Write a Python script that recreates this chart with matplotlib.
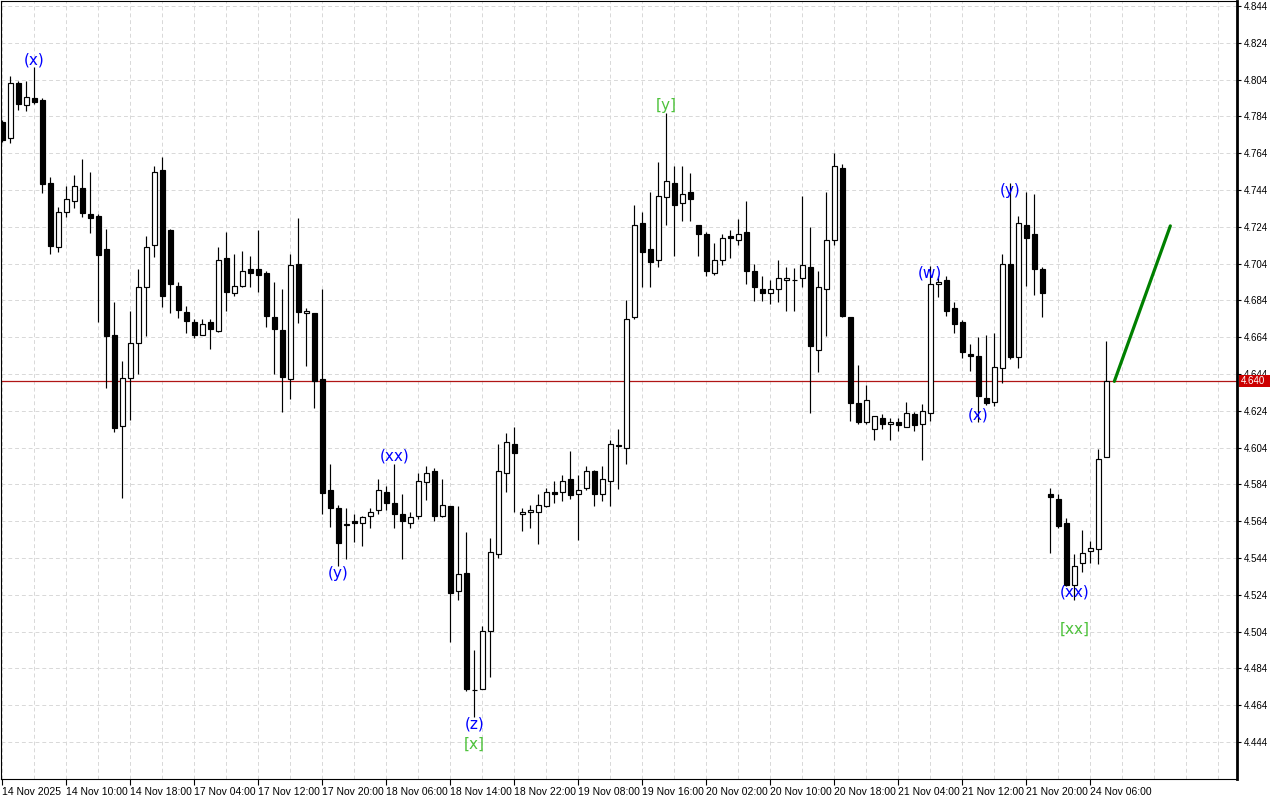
import matplotlib
matplotlib.use('Agg')
import matplotlib.pyplot as plt
import numpy as np
from matplotlib.patches import Rectangle

# ---------------- data (hourly bars) ----------------
opens = [4.7812, 4.7721, 4.8020, 4.7901, 4.7939, 4.7929, 4.7477, 4.7129, 4.7319, 4.7379,
         4.7451, 4.7312, 4.7299, 4.7120, 4.6652, 4.6159, 4.6417, 4.6607, 4.6915, 4.7140,
         4.7547, 4.7223, 4.6917, 4.6779, 4.6725, 4.6651, 4.6721, 4.6674, 4.7069, 4.6879,
         4.6917, 4.7011, 4.7011, 4.6988, 4.6750, 4.6678, 4.6412, 4.7037, 4.6770, 4.6770,
         4.6412, 4.5808, 4.5711, 4.5618, 4.5640, 4.5629, 4.5667, 4.5700, 4.5799, 4.5738,
         4.5678, 4.5629, 4.5667, 4.5853, 4.5913, 4.5667, 4.5721, 4.5259, 4.5357, 4.4721,
         4.4730, 4.5045, 4.5460, 4.5901, 4.6058, 4.5678, 4.5689, 4.5689, 4.5723, 4.5799,
         4.5797, 4.5868, 4.5787, 4.5819, 4.5912, 4.5787, 4.5857, 4.6048, 4.6037, 4.6749,
         4.7259, 4.7118, 4.7058, 4.7401, 4.7477, 4.7368, 4.7428, 4.7249, 4.7200, 4.6988,
         4.7058, 4.7189, 4.7167, 4.7211, 4.6999, 4.6901, 4.6879, 4.6901, 4.6950, 4.6950,
         4.6960, 4.7020, 4.6569, 4.6901, 4.7167, 4.7558, 4.6749, 4.6281, 4.6178, 4.6140,
         4.6200, 4.6167, 4.6178, 4.6151, 4.6222, 4.6167, 4.6227, 4.6928, 4.6950, 4.6797,
         4.6721, 4.6547, 4.6536, 4.6308, 4.6287, 4.6471, 4.7037, 4.6531, 4.7249, 4.7200,
         4.7009, 4.5787, 4.5759, 4.5629, 4.5294, 4.5412, 4.5478, 4.5488, 4.5988]
highs = [4.7820, 4.8060, 4.8033, 4.8033, 4.8107, 4.7939, 4.7511, 4.7346, 4.7462, 4.7522,
         4.7609, 4.7538, 4.7312, 4.7228, 4.6832, 4.6511, 4.6783, 4.7011, 4.7190, 4.7571,
         4.7620, 4.7228, 4.6939, 4.6810, 4.6738, 4.6738, 4.6738, 4.7131, 4.7212, 4.7093,
         4.7109, 4.7082, 4.7223, 4.7000, 4.6939, 4.6902, 4.7093, 4.7287, 4.6801, 4.6770,
         4.6904, 4.5951, 4.5728, 4.5711, 4.5678, 4.5667, 4.5711, 4.5870, 4.5832, 4.5951,
         4.5787, 4.5689, 4.5902, 4.5940, 4.5929, 4.5870, 4.5721, 4.5721, 4.5580, 4.4942,
         4.5071, 4.5551, 4.6062, 4.6121, 4.6154, 4.5711, 4.5727, 4.5787, 4.5819, 4.5857,
         4.5892, 4.6020, 4.5892, 4.5940, 4.5917, 4.5940, 4.6082, 4.6141, 4.6841, 4.7359,
         4.7319, 4.7431, 4.7594, 4.7860, 4.7569, 4.7569, 4.7533, 4.7249, 4.7211, 4.7151,
         4.7200, 4.7221, 4.7284, 4.7379, 4.7037, 4.6971, 4.6950, 4.7058, 4.7020, 4.7015,
         4.7406, 4.7239, 4.6999, 4.7428, 4.7640, 4.7580, 4.6749, 4.6488, 4.6379, 4.6211,
         4.6222, 4.6200, 4.6200, 4.6287, 4.6233, 4.6276, 4.7029, 4.6971, 4.6971, 4.6830,
         4.6732, 4.6602, 4.6640, 4.6651, 4.6662, 4.7091, 4.7477, 4.7299, 4.7428, 4.7417,
         4.7020, 4.5819, 4.5787, 4.5660, 4.5462, 4.5593, 4.5533, 4.6031, 4.6620]
lows = [4.7700, 4.7697, 4.7875, 4.7870, 4.7908, 4.7426, 4.7094, 4.7103, 4.7295, 4.7344,
        4.7295, 4.7208, 4.6725, 4.6366, 4.6127, 4.5768, 4.6189, 4.6439, 4.6649, 4.7078,
        4.6806, 4.6770, 4.6746, 4.6662, 4.6638, 4.6651, 4.6578, 4.6667, 4.6784, 4.6866,
        4.6915, 4.6915, 4.6888, 4.6697, 4.6439, 4.6236, 4.6306, 4.6719, 4.6485, 4.6257,
        4.5678, 4.5607, 4.5399, 4.5437, 4.5527, 4.5507, 4.5602, 4.5678, 4.5700, 4.5602,
        4.5437, 4.5602, 4.5651, 4.5755, 4.5640, 4.5662, 4.4986, 4.5210, 4.4719, 4.4578,
        4.4730, 4.4795, 4.5439, 4.5797, 4.5689, 4.5589, 4.5602, 4.5518, 4.5716, 4.5738,
        4.5749, 4.5759, 4.5540, 4.5808, 4.5725, 4.5749, 4.5725, 4.5817, 4.5950, 4.6740,
        4.6912, 4.6912, 4.7020, 4.7249, 4.7080, 4.7270, 4.7270, 4.7080, 4.6971, 4.6977,
        4.7031, 4.7069, 4.7140, 4.6928, 4.6839, 4.6839, 4.6819, 4.6830, 4.6784, 4.6784,
        4.6912, 4.6227, 4.6450, 4.6649, 4.7140, 4.6749, 4.6187, 4.6167, 4.6167, 4.6080,
        4.6140, 4.6080, 4.6129, 4.6151, 4.6129, 4.5971, 4.6187, 4.6857, 4.6757, 4.6665,
        4.6529, 4.6458, 4.6178, 4.6270, 4.6268, 4.6390, 4.6520, 4.6471, 4.6917, 4.6868,
        4.6749, 4.5469, 4.5602, 4.5290, 4.5212, 4.5366, 4.5415, 4.5408, 4.5988]
closes = [4.7712, 4.8020, 4.7906, 4.7947, 4.7917, 4.7471, 4.7138, 4.7319, 4.7390, 4.7462,
          4.7317, 4.7287, 4.7089, 4.6649, 4.6149, 4.6417, 4.6607, 4.6912, 4.7129, 4.7537,
          4.6866, 4.6928, 4.6787, 4.6729, 4.6651, 4.6711, 4.6687, 4.7058, 4.6888, 4.6917,
          4.7000, 4.6988, 4.6977, 4.6757, 4.6687, 4.6426, 4.7031, 4.6779, 4.6781, 4.6402,
          4.5795, 4.5711, 4.5520, 4.5627, 4.5629, 4.5662, 4.5689, 4.5808, 4.5738, 4.5678,
          4.5640, 4.5662, 4.5857, 4.5901, 4.5667, 4.5727, 4.5249, 4.5352, 4.4730, 4.4723,
          4.5045, 4.5471, 4.5912, 4.6069, 4.6009, 4.5689, 4.5701, 4.5727, 4.5797, 4.5787,
          4.5857, 4.5781, 4.5808, 4.5912, 4.5787, 4.5868, 4.6058, 4.6052, 4.6738, 4.7249,
          4.7105, 4.7047, 4.7406, 4.7488, 4.7357, 4.7417, 4.7390, 4.7200, 4.6999, 4.7058,
          4.7178, 4.7178, 4.7200, 4.6999, 4.6912, 4.6879, 4.6901, 4.6960, 4.6960, 4.6950,
          4.7031, 4.6591, 4.6912, 4.7167, 4.7569, 4.6754, 4.6284, 4.6178, 4.6297, 4.6211,
          4.6167, 4.6178, 4.6162, 4.6227, 4.6162, 4.6238, 4.6928, 4.6939, 4.6784, 4.6711,
          4.6558, 4.6536, 4.6319, 4.6281, 4.6477, 4.7037, 4.6534, 4.7259, 4.7178, 4.7009,
          4.6879, 4.5770, 4.5616, 4.5294, 4.5399, 4.5469, 4.5496, 4.5977, 4.6400]

x_tick_labels = ['14 Nov 2025', '14 Nov 10:00', '14 Nov 18:00', '17 Nov 04:00', '17 Nov 12:00',
                 '17 Nov 20:00', '18 Nov 06:00', '18 Nov 14:00', '18 Nov 22:00', '19 Nov 08:00',
                 '19 Nov 16:00', '20 Nov 02:00', '20 Nov 10:00', '20 Nov 18:00', '21 Nov 04:00',
                 '21 Nov 12:00', '21 Nov 20:00', '24 Nov 06:00']
x_tick_step = 8
y_tick_values = [4.444, 4.464, 4.484, 4.504, 4.524, 4.544, 4.564, 4.584, 4.604, 4.624, 4.644,
                 4.664, 4.684, 4.704, 4.724, 4.744, 4.764, 4.784, 4.804, 4.824, 4.844]
last_price = 4.640
forecast_bars = [139, 146]
forecast_prices = [4.640, 4.7245]

# wave labels: (bar, text, colour, anchor)
wave_labels = [(4, '(x)', 'blue', 'high'), (42, '(y)', 'blue', 'low'),
               (49, '(xx)', 'blue', 'high'), (59, '(z)', 'blue', 'low'),
               (59, '[x]', 'green', 'low'), (83, '[y]', 'green', 'high'),
               (116, '(w)', 'blue', 'high'), (122, '(x)', 'blue', 'low'),
               (126, '(y)', 'blue', 'high'), (134, '(xx)', 'blue', 'low'),
               (134, '[xx]', 'green', 'low')]
# layout: (vertical alignment, offset in px) for each wave label
label_layout = [('bottom', 0), ('top', 0), ('bottom', 0), ('top', 0), ('top', -20),
                ('bottom', 0), ('top', 0), ('bottom', 0), ('top', 0), ('bottom', 0),
                ('top', -22)]
label_colors = {'blue': '#0000ff', 'green': '#4ec23c'}

# ---------------- figure ----------------
plt.rcParams['font.family'] = ['Liberation Sans', 'DejaVu Sans']
W, H = 1280, 800
fig = plt.figure(figsize=(12.8, 8), dpi=100)
ax_l, ax_r, ax_t, ax_b = 1, 1237, 0.5, 779
ax = fig.add_axes([ax_l / W, 1 - ax_b / H, (ax_r - ax_l) / W, (ax_b - ax_t) / H])

px_per_bar = 8.0
x0_px = 2.33
ax.set_xlim((ax_l - x0_px) / px_per_bar, (ax_r - x0_px) / px_per_bar)
px_per_price = 1840.0
p_top = 4.844 + 6 / px_per_price
ax.set_ylim(p_top - ax_b / px_per_price, p_top - ax_t / px_per_price)

n = len(opens)
xs = np.arange(n)
o = np.array(opens); c = np.array(closes); hi = np.array(highs); lo = np.array(lows)

# grid
for k in range(0, 160, 4):
    ax.axvline(k, color='#d8d8d8', lw=0.7, ls=(0, (4, 3)), zorder=0)
for yv in y_tick_values:
    ax.axhline(yv, color='#d8d8d8', lw=0.7, ls=(0, (4, 3)), zorder=0)

# current price line
ax.axhline(last_price, color='#b01515', lw=0.9, zorder=1)

# candles
ax.vlines(xs, lo, hi, color='black', lw=0.85, zorder=2)
bull = c > o
bottoms = np.minimum(o, c)
heights = np.maximum(np.abs(c - o), 0.0003)
ax.bar(xs, heights, bottom=bottoms, width=0.55,
       color=np.where(bull, 'white', 'black'), edgecolor='black', linewidth=0.85, zorder=3)

# forecast line
ax.plot(forecast_bars, forecast_prices, color='#008000', lw=2.3, zorder=4,
        solid_capstyle='round')

# wave labels
for (b, txt, col, anchor), (va, dy) in zip(wave_labels, label_layout):
    yv = highs[b] if anchor == 'high' else lows[b]
    ax.annotate(txt, xy=(b, yv), xytext=(0, dy * 0.72), textcoords='offset points',
                ha='center', va=va, color=label_colors[col], fontsize=11,
                family='DejaVu Sans', zorder=5)

# axes styling
for s in ['left', 'top', 'bottom']:
    ax.spines[s].set_linewidth(0.8)
ax.spines['right'].set_linewidth(2.0)

tick_pos = list(range(0, x_tick_step * len(x_tick_labels), x_tick_step))
ax.set_xticks(tick_pos)
ax.set_xticklabels(x_tick_labels, fontsize=7.5, ha='left')
ax.tick_params(axis='x', length=4, width=0.8, pad=1.5, direction='out')

ax.yaxis.tick_right()
ax.set_yticks(y_tick_values)
ax.set_yticklabels([f'{v:.3f}' for v in y_tick_values], fontsize=7)
ax.tick_params(axis='y', length=3, width=0.8, pad=2, direction='out')

# current price box on the axis
y_px = ax.transData.transform((0, last_price))[1]
box_h = 12
fig.patches.append(Rectangle((1239 / W, (y_px - box_h / 2) / H), 31 / W, box_h / H,
                             transform=fig.transFigure, facecolor='#cc0000',
                             edgecolor='none', zorder=10))
fig.text(1241 / W, y_px / H, f'{last_price:.3f}', color='white', fontsize=7,
         va='center', ha='left', zorder=11)

fig.savefig('out.png', dpi=100, facecolor='white')
